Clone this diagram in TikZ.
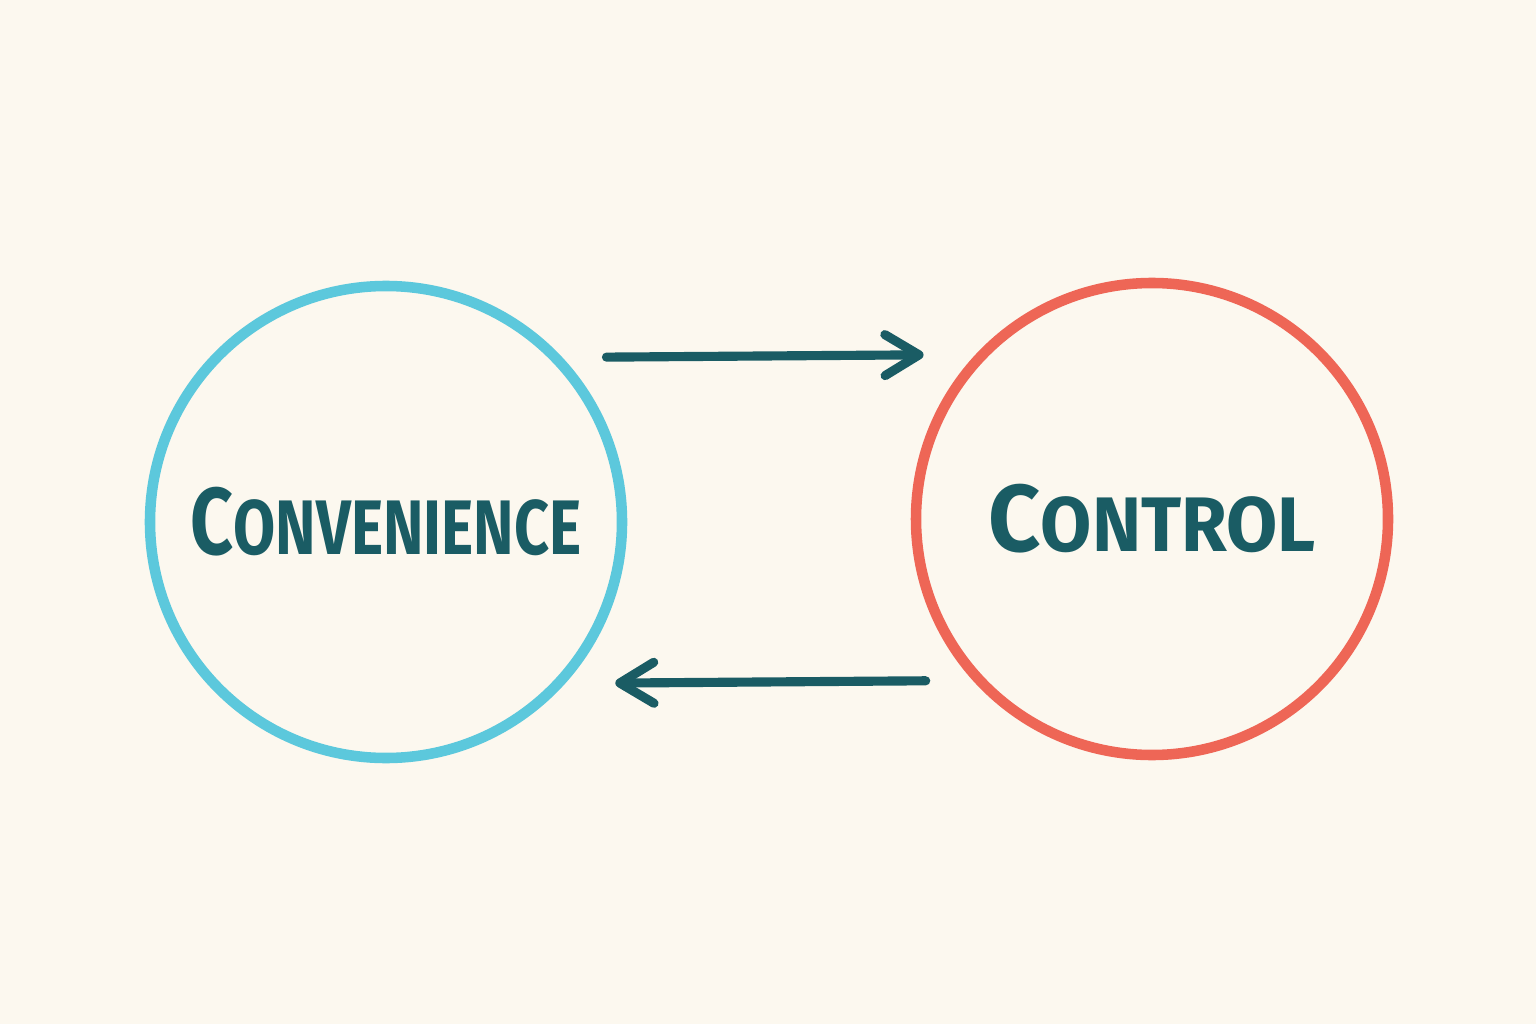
\documentclass[tikz,border=0pt]{standalone}
\usepackage{fontspec}
\usepackage{graphicx}
\usetikzlibrary{arrows.meta, positioning}
\setmainfont{Fira Sans}
\definecolor{paper}   {RGB}{252,248,239}
\definecolor{cbCyan}  {RGB}{92,200,220}
\definecolor{cbRed}   {RGB}{238,102,86}
\definecolor{cbTeal}  {RGB}{26,92,100}
\newcommand{\capbig}[1]{{\fontsize{27}{27}\selectfont #1}}
\newcommand{\capsmall}[1]{{\fontsize{22}{22}\selectfont #1}}

\begin{document}
\begin{tikzpicture}[
    ring/.style={circle, line width=3pt, minimum size=4.72cm, inner sep=0pt, text=cbTeal, font=\bfseries},
    flow/.style={cbTeal, line width=2.6pt, line cap=round, -{Straight Barb[length=3.4mm, width=4.1mm, line width=2.6pt, round]}}
  ]
        \fill[paper] (0,0) rectangle (15.36,10.24);
        \useasboundingbox (0,0) rectangle (15.36,10.24);
        \node[ring, draw=cbCyan] (conv) at (3.86,5.02) {\scalebox{0.79}[1]{\capbig{C}\capsmall{ONVENIENCE}}};
        \node[ring, draw=cbRed] (ctrl) at (11.52,5.05) {\scalebox{0.96}[1]{\capbig{C}\capsmall{ONTROL}}};
        \draw[flow, shorten <=4.4mm, shorten >=5.2mm] (conv.43) -- (ctrl.137);
        \draw[flow, shorten <=4.7mm, shorten >=5mm] (ctrl.-138) -- (conv.-42);
    \end{tikzpicture}
\end{document}
